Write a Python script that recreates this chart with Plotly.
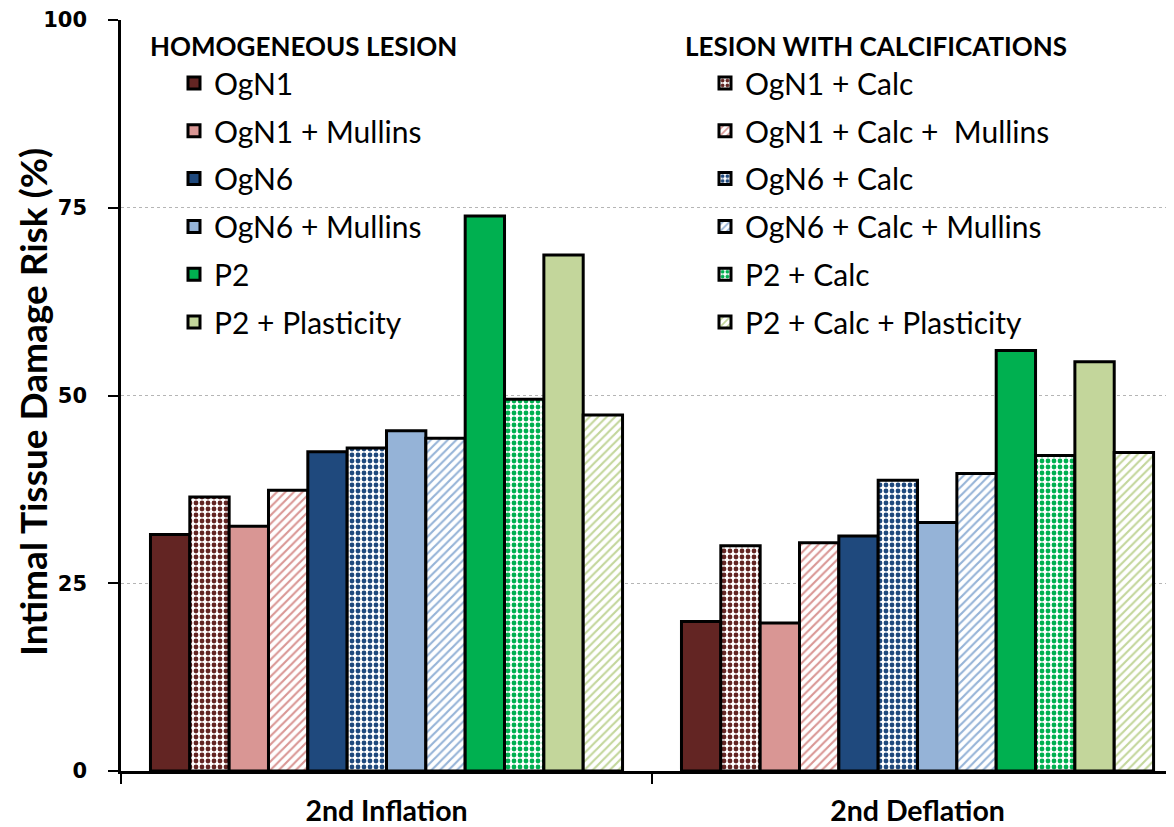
import plotly.graph_objects as go

# Data
phases = ["2nd Inflation", "2nd Deflation"]

series = [
    "OgN1", "OgN1 + Calc", "OgN1 + Mullins", "OgN1 + Calc +  Mullins",
    "OgN6", "OgN6 + Calc", "OgN6 + Mullins", "OgN6 + Calc + Mullins",
    "P2", "P2 + Calc", "P2 + Plasticity", "P2 + Calc + Plasticity",
]
inflation = [31.5, 36.5, 32.6, 37.4, 42.5, 43.0, 45.3, 44.3, 73.9, 49.5, 68.7, 47.4]
deflation = [19.9, 30.0, 19.7, 30.4, 31.3, 38.7, 33.1, 39.6, 56.0, 42.0, 54.5, 42.4]

colors = [
    "#632523", "#632523", "#D99694", "#D99694",
    "#1F497D", "#1F497D", "#95B3D7", "#95B3D7",
    "#00B050", "#00B050", "#C3D69B", "#C3D69B",
]
# "" solid, "." checker-like (calcified), "/" hatched (calcified + Mullins/plasticity)
patterns = ["", ".", "", "/", "", ".", "", "/", "", ".", "", "/"]

LATO = "Lato"

# page has an 8px body margin; figure sized so it ends at the window edge
OFF = 8
FIG_W, FIG_H = 1174 - OFF, 827 - OFF
# plot area in page pixels: x 121..1174, y 20..771
L, T, W, H = 121, 20, 1053, 751


def px(x):
    return (x - L) / W


def py(y):
    return 1 - (y - T) / H


fig = go.Figure()

for i, name in enumerate(series):
    shape = patterns[i]
    if shape == ".":
        pattern = dict(shape=".", fgcolor=colors[i], fgopacity=1, bgcolor="white", size=6, solidity=0.5)
    elif shape == "/":
        pattern = dict(shape="/", fgcolor=colors[i], fgopacity=1, bgcolor="white", size=6, solidity=0.35)
    else:
        pattern = dict(shape="")
    fig.add_trace(
        go.Bar(
            x=phases,
            y=[inflation[i], deflation[i]],
            name=name,
            marker=dict(color=colors[i], line=dict(color="black", width=3), pattern=pattern),
            legend="legend2" if shape else "legend",
            legendgroup=name,
        )
    )

legend_common = dict(
    font=dict(family=LATO, size=30, color="black"),
    bgcolor="rgba(0,0,0,0)",
    traceorder="grouped",
    tracegroupgap=5.8,
    xanchor="left",
    yanchor="top",
)

fig.update_layout(
    width=FIG_W,
    height=FIG_H,
    margin=dict(l=L - OFF, r=FIG_W - (L - OFF) - W, t=T - OFF, b=FIG_H - (T - OFF) - H, autoexpand=False),
    paper_bgcolor="white",
    plot_bgcolor="white",
    barmode="group",
    bargap=0.111,
    bargroupgap=0,
    legend=dict(x=px(174), y=py(57), **legend_common),
    legend2=dict(x=px(705), y=py(57), **legend_common),
    xaxis=dict(
        range=[-0.5, 1.483],
        showline=True,
        linecolor="black",
        linewidth=2.5,
        ticks="outside",
        tickson="boundaries",
        ticklen=10,
        tickwidth=2,
        tickcolor="black",
        ticklabelstandoff=13,
        tickangle=0,
        tickfont=dict(family=LATO, size=28.5, color="black", weight="bold"),
        showgrid=False,
    ),
    yaxis=dict(
        range=[0, 100],
        tickvals=[0, 25, 50, 75, 100],
        showline=True,
        linecolor="black",
        linewidth=2.5,
        ticks="outside",
        ticklen=10,
        tickwidth=2,
        tickcolor="black",
        ticklabelstandoff=17,
        tickfont=dict(family="DejaVu Sans", size=21, color="black", weight="bold"),
        showgrid=True,
        gridcolor="#b5b5b5",
        griddash="3px,3px",
        gridwidth=1,
        zeroline=False,
    ),
    annotations=[
        dict(
            text="Intimal Tissue Damage Risk (%)",
            xref="paper", yref="paper", x=px(32), y=py(402),
            xanchor="center", yanchor="middle", textangle=-90, showarrow=False,
            font=dict(family=LATO, size=37, color="black", weight="bold"),
        ),
        dict(
            text="HOMOGENEOUS LESION",
            xref="paper", yref="paper", x=px(148), y=py(46),
            xanchor="left", yanchor="middle", showarrow=False,
            font=dict(family=LATO, size=26, color="black", weight="bold"),
        ),
        dict(
            text="LESION WITH CALCIFICATIONS",
            xref="paper", yref="paper", x=px(683), y=py(46),
            xanchor="left", yanchor="middle", showarrow=False,
            font=dict(family=LATO, size=26, color="black", weight="bold"),
        ),
    ],
)

fig.write_html("out.html")
